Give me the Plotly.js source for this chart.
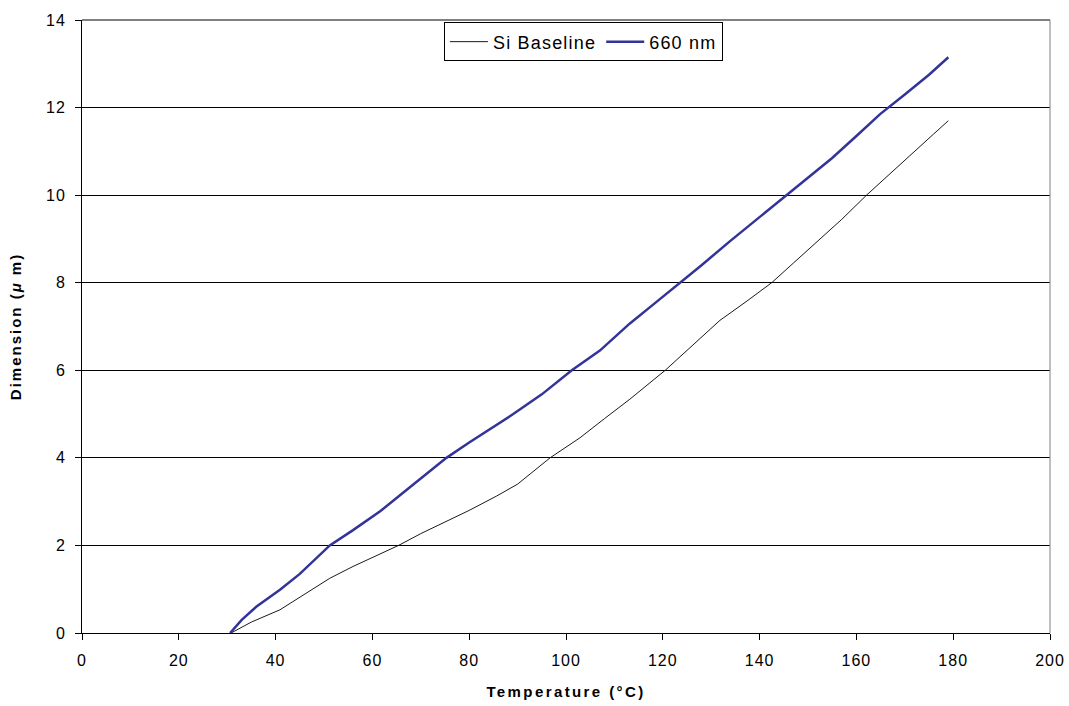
<!DOCTYPE html>
<html>
<head>
<meta charset="utf-8">
<script src="https://cdn.plot.ly/plotly-3.0.1.min.js"></script>
<style>
  html, body { margin: 0; padding: 0; background: #fff; }
  #chart { width: 1069px; height: 706px; }
  .xtick text, .ytick text { letter-spacing: 1px; }
  .legendtext { letter-spacing: 1.2px; }
  .g-xtitle text, .xtitle { letter-spacing: 2.4px; }
  .g-ytitle text, .ytitle { letter-spacing: 2px; }
</style>
</head>
<body>
<div id="chart"></div>
<script>
// Thermal expansion: dimension change versus temperature
const baselineTemp = [30.8, 35, 40.9, 45, 51.2, 56, 60, 65.4, 70, 75.3, 80, 85.7, 90, 96.7, 102.9, 108, 113.2, 120.5, 126, 131.8, 137, 142.5, 147, 152.5, 157, 162.1, 167, 172, 176, 179];
const baselineDim  = [0, 0.25, 0.53, 0.82, 1.25, 1.52, 1.72, 2.0, 2.27, 2.55, 2.8, 3.13, 3.4, 4.0, 4.46, 4.9, 5.34, 6.0, 6.55, 7.14, 7.55, 8.0, 8.45, 9.0, 9.45, 10.0, 10.5, 11.0, 11.4, 11.7];

const nm660Temp = [30.6, 33, 36, 40.9, 45, 51.2, 56, 61.6, 68, 75.3, 80, 89.1, 95, 101.2, 107, 113.2, 118, 123.6, 128, 133.9, 140, 145.6, 150, 155, 160, 164.9, 170, 175, 179];
const nm660Dim  = [0, 0.3, 0.6, 0.99, 1.35, 2.0, 2.35, 2.78, 3.35, 4.0, 4.35, 5.0, 5.45, 6.0, 6.45, 7.07, 7.5, 8.0, 8.4, 8.95, 9.5, 10.0, 10.4, 10.85, 11.35, 11.85, 12.3, 12.75, 13.15];

const xTicks = [0, 20, 40, 60, 80, 100, 120, 140, 160, 180, 200];
const yTicks = [0, 2, 4, 6, 8, 10, 12, 14];

const font = "Arial, 'Liberation Sans', sans-serif";

const traces = [
  {
    x: baselineTemp, y: baselineDim, name: 'Si Baseline', type: 'scatter', mode: 'lines',
    line: { color: '#1a1a1a', width: 1 }
  },
  {
    x: nm660Temp, y: nm660Dim, name: '660 nm', type: 'scatter', mode: 'lines',
    line: { color: '#333399', width: 2.5 }
  }
];

const layout = {
  width: 1069, height: 706,
  margin: { l: 82, r: 19, t: 20, b: 73 },
  paper_bgcolor: '#fff', plot_bgcolor: '#fff',
  font: { family: font, size: 16, color: '#000' },
  showlegend: true,
  legend: {
    orientation: 'h', x: 0.518, xanchor: 'center', y: 0.996, yanchor: 'top',
    bgcolor: '#fff', bordercolor: '#000', borderwidth: 1,
    font: { family: font, size: 18, color: '#000' },
    itemwidth: 38, traceorder: 'normal'
  },
  xaxis: {
    range: [0, 200], tickvals: xTicks, ticktext: xTicks.map(String),
    showgrid: false, zeroline: false,
    showline: true, linecolor: '#000', linewidth: 1,
    ticks: 'outside', ticklen: 6, tickcolor: '#000',
    ticklabelstandoff: 7,
    tickfont: { family: font, size: 16 },
    title: { text: '<b>Temperature (°C)</b>', font: { family: font, size: 15 }, standoff: 18 }
  },
  yaxis: {
    range: [0, 14], tickvals: yTicks, ticktext: yTicks.map(String),
    showgrid: true, gridcolor: '#000', gridwidth: 1, zeroline: false,
    showline: true, linecolor: '#000', linewidth: 1,
    ticks: 'outside', ticklen: 6, tickcolor: '#000',
    ticklabelstandoff: 6,
    tickfont: { family: font, size: 16 },
    title: { text: '<b>Dimension (<i>μ</i> m)</b>', font: { family: font, size: 15 }, standoff: 20 }
  },
  shapes: [
    { type: 'line', xref: 'paper', yref: 'paper', x0: 0, x1: 1, y0: 1, y1: 1, line: { color: '#808080', width: 2 }, layer: 'above' },
    { type: 'line', xref: 'paper', yref: 'paper', x0: 1, x1: 1, y0: 0, y1: 1, line: { color: '#808080', width: 1 }, layer: 'above' }
  ]
};

Plotly.newPlot('chart', traces, layout, { displayModeBar: false, staticPlot: true });
</script>
</body>
</html>
